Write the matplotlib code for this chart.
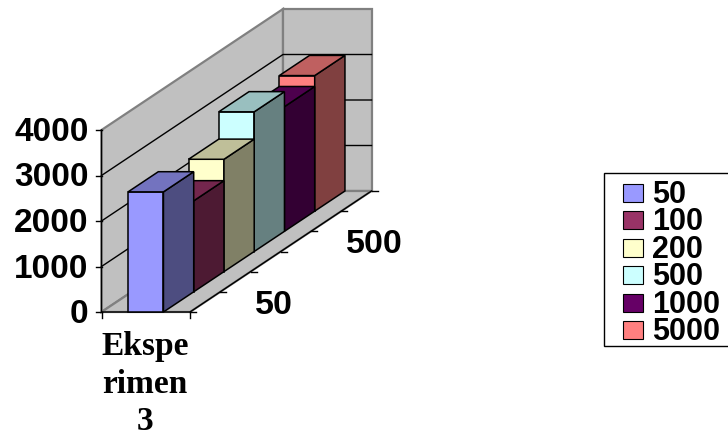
import matplotlib
matplotlib.use("Agg")
import matplotlib.pyplot as plt
from matplotlib.patches import Polygon, Rectangle
from matplotlib.colors import to_rgb

series_names = ["50", "100", "200", "500", "1000", "5000"]
series_values = [2640, 2000, 2470, 3070, 2740, 2980]
series_colors = ["#9999FF", "#993366", "#FFFFCC", "#CCFFFF", "#660066", "#FF8080"]
value_ticks = [0, 1000, 2000, 3000, 4000]
depth_tick_labels = {0: "50", 3: "500"}
category_label = "Ekspe\nrimen\n3"

# oblique box in pixels
ORIGIN_X, ORIGIN_Y = 101.5, 312.0
BOX_W = 88.5
DEPTH_X, DEPTH_Y = 181.5, -121.0
PX_PER_UNIT = 182.0 / 4000
BAR_LEFT, BAR_RIGHT = 0.30, 0.70
VMAX = value_ticks[-1]
N = len(series_values)


def project(x, depth, value):
    # x in 0..1 across the category, depth in series units, value in data units
    t = depth / N
    return (ORIGIN_X + x * BOX_W + t * DEPTH_X,
            ORIGIN_Y + t * DEPTH_Y - value * PX_PER_UNIT)


def shade(color, f):
    return tuple(c * f for c in to_rgb(color))


fig = plt.figure(figsize=(7.28, 4.37), dpi=100)
ax = fig.add_axes([0, 0, 1, 1])
ax.set_xlim(0, 728)
ax.set_ylim(437, 0)
ax.axis("off")

plt.rcParams["font.family"] = ["Liberation Sans", "DejaVu Sans"]

wall_gray = "#C0C0C0"
edge_gray = "#808080"

# walls and floor
left_wall = [project(0, 0, 0), project(0, 0, VMAX), project(0, N, VMAX), project(0, N, 0)]
back_wall = [project(0, N, 0), project(0, N, VMAX), project(1, N, VMAX), project(1, N, 0)]
floor = [project(0, 0, 0), project(1, 0, 0), project(1, N, 0), project(0, N, 0)]
for poly in (left_wall, back_wall, floor):
    ax.add_patch(Polygon(poly, closed=True, fc=wall_gray, ec=edge_gray, lw=1.6, zorder=1))

# gridlines on the walls
for v in value_ticks[1:-1]:
    pts = [project(0, 0, v), project(0, N, v), project(1, N, v)]
    ax.plot([p[0] for p in pts], [p[1] for p in pts], color="black", lw=1, zorder=2)

# axes lines and ticks
axis_pts = [project(0, 0, VMAX), project(0, 0, 0), project(1, 0, 0), project(1, N, 0)]
ax.plot([p[0] for p in axis_pts], [p[1] for p in axis_pts], color="black", lw=1, zorder=3)
for v in value_ticks:
    px, py = project(0, 0, v)
    ax.plot([px - 6, px], [py, py], color="black", lw=1, zorder=3)
    ax.text(px - 13, py + 2.5, f"{v}", ha="right", va="center", fontsize=24,
            fontweight="bold", family="Liberation Sans")
for x in (0, 1):
    px, py = project(x, 0, 0)
    ax.plot([px, px], [py, py + 6], color="black", lw=1, zorder=3)
for d in range(N + 1):
    px, py = project(1, d, 0)
    ax.plot([px, px + 6], [py, py], color="black", lw=1, zorder=3)
for d, lab in depth_tick_labels.items():
    px, py = project(1, d + 0.5, 0)
    ax.text(px + 50, py + 3.5, lab, ha="left", va="center", fontsize=24.5,
            fontweight="bold", family="Liberation Sans")

# bars back to front
for i in reversed(range(N)):
    v = series_values[i]
    c = series_colors[i]
    z = 10 + (N - i)
    front = [project(BAR_LEFT, i, 0), project(BAR_LEFT, i, v), project(BAR_RIGHT, i, v), project(BAR_RIGHT, i, 0)]
    side = [project(BAR_RIGHT, i, 0), project(BAR_RIGHT, i, v), project(BAR_RIGHT, i + 1, v), project(BAR_RIGHT, i + 1, 0)]
    top = [project(BAR_LEFT, i, v), project(BAR_LEFT, i + 1, v), project(BAR_RIGHT, i + 1, v), project(BAR_RIGHT, i, v)]
    ax.add_patch(Polygon(front, closed=True, fc=c, ec="black", lw=1.1, zorder=z))
    ax.add_patch(Polygon(side, closed=True, fc=shade(c, 0.5), ec="black", lw=1.1, zorder=z))
    ax.add_patch(Polygon(top, closed=True, fc=shade(c, 0.75), ec="black", lw=1.1, zorder=z))

# category label
for j, line in enumerate(category_label.split("\n")):
    ax.text(145, 347 + j * 37.5, line, ha="center", va="center", fontsize=24,
            fontweight="bold", family="Liberation Serif")

# legend, runs off the right edge like the original
ax.add_patch(Rectangle((603.5, 173), 130, 173, fc="white", ec="black", lw=1, zorder=20))
for j, name in enumerate(series_names):
    y = 193 + j * 27.4
    ax.add_patch(Rectangle((622.5, y - 9), 20, 18, fc=series_colors[j], ec="black", lw=0.8, zorder=21))
    ax.text(652, y + 2, name, ha="left", va="center", fontsize=22,
            fontweight="bold", family="Liberation Sans", zorder=21)

fig.savefig("out.png", dpi=100)
